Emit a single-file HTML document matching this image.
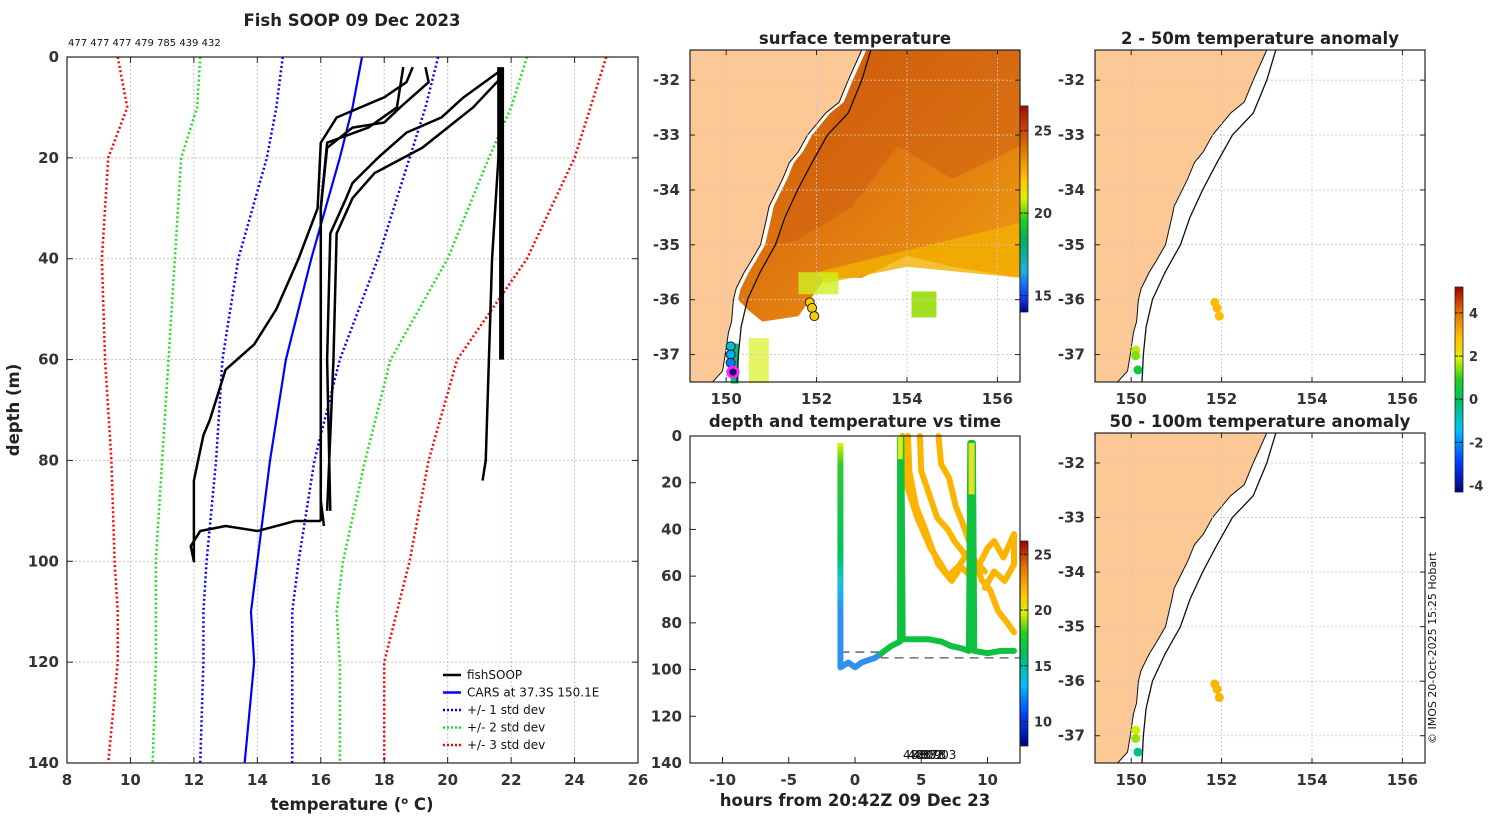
<!DOCTYPE html>
<html><head><meta charset="utf-8"><style>
body{margin:0;background:#fff;width:1500px;height:820px;overflow:hidden;font-family:"Liberation Sans","DejaVu Sans",sans-serif}
svg text{font-family:"DejaVu Sans","Liberation Sans",sans-serif}
.t{font-weight:bold;font-size:16.5px;fill:#222}
.tk{font-weight:bold;font-size:15px;fill:#333}
.n{font-weight:normal;fill:#111}
</style></head><body>
<svg id="fig" width="1500" height="820" viewBox="0 0 1500 820" xmlns="http://www.w3.org/2000/svg">
<defs>
<linearGradient id="jet" x1="0" y1="1" x2="0" y2="0">
<stop offset="0" stop-color="#00007f"/><stop offset="0.15" stop-color="#0040ff"/><stop offset="0.3" stop-color="#00c0ff"/><stop offset="0.45" stop-color="#00c060"/><stop offset="0.55" stop-color="#20d020"/><stop offset="0.65" stop-color="#e0f000"/><stop offset="0.75" stop-color="#ffc000"/><stop offset="0.88" stop-color="#e07000"/><stop offset="1" stop-color="#a00000"/>
</linearGradient>
<linearGradient id="sst" x1="0" y1="1" x2="0" y2="0">
<stop offset="0" stop-color="#00007f"/><stop offset="0.05" stop-color="#1030d0"/><stop offset="0.1" stop-color="#1050ff"/><stop offset="0.2" stop-color="#20b0e0"/><stop offset="0.35" stop-color="#00b060"/><stop offset="0.45" stop-color="#20d020"/><stop offset="0.55" stop-color="#e0f000"/><stop offset="0.65" stop-color="#ffc000"/><stop offset="0.8" stop-color="#e07000"/><stop offset="1" stop-color="#a01000"/>
</linearGradient>
<linearGradient id="p1" x1="0" y1="0" x2="0" y2="1">
<stop offset="0" stop-color="#e0f000"/><stop offset="0.1" stop-color="#30c830"/><stop offset="0.5" stop-color="#00c060"/><stop offset="0.62" stop-color="#20c0e0"/><stop offset="0.75" stop-color="#3090f0"/><stop offset="1" stop-color="#3090f0"/>
</linearGradient>
<linearGradient id="sea" x1="0" y1="0" x2="1" y2="1">
<stop offset="0" stop-color="#c84a00"/><stop offset="0.5" stop-color="#e07a10"/><stop offset="1" stop-color="#f0a010"/>
</linearGradient>
</defs>
<g id="g"></g>
</svg>
<script>
// ---------- data ----------
const depthsStd=[0,10,20,40,60,80,100,110,120,140];
const cars=[17.3,17.0,16.6,15.7,14.9,14.4,14.0,13.8,13.9,13.6];
const std1Lo=[14.8,14.6,14.3,13.4,12.9,12.7,12.4,12.3,12.3,12.2];
const std1Hi=[19.7,19.3,18.8,17.8,16.6,15.8,15.3,15.1,15.1,15.1];
const std2Lo=[12.2,12.1,11.6,11.4,11.2,11.0,10.8,10.8,10.8,10.7];
const std2Hi=[22.5,22.0,21.3,20.0,18.2,17.4,16.7,16.5,16.6,16.6];
const std3Lo=[9.6,9.9,9.3,9.1,9.2,9.4,9.5,9.6,9.6,9.3];
const std3Hi=[25.0,24.5,24.0,22.5,20.3,19.4,18.8,18.4,18.0,18.0];
const profA=[[2,18.9],[5,18.7],[8,18.0],[12,16.5],[17,16.0],[30,15.9],[40,15.3],[50,14.6],[57,13.9],[62,13.0],[66,12.8],[72,12.5],[75,12.3],[84,12.0],[100,12.0],[97,11.9],[94,12.2],[93,13.0],[94,14.0],[92,15.2],[92,16.0]];
const profB=[[2,19.3],[5,19.4],[10,18.5],[13,18.0],[14,17.0],[18,16.2],[30,16.0],[60,16.0],[88,16.0],[93,16.1]];
const profC=[[2,18.6],[6,18.5],[10,18.4],[14,17.5],[17,16.2],[30,16.0],[88,16.0],[92,16.0]];
const profD=[[3,21.6],[8,20.5],[12,19.8],[15,18.7],[20,17.8],[25,17.0],[28,16.8],[35,16.3],[60,16.2],[90,16.3]];
const profE=[[4,21.7],[10,20.8],[14,20.0],[18,19.2],[23,17.7],[28,17.0],[35,16.5],[60,16.4],[90,16.2]];
const profF=[[2,21.7],[20,21.7],[40,21.7],[60,21.7]];
const profG=[[2,21.6],[20,21.6],[40,21.4],[60,21.3],[80,21.2],[84,21.1]];
const xTicksT=[8,10,12,14,16,18,20,22,24,26];
const yTicksD=[0,20,40,60,80,100,120,140];
const counts="477 477 477 479 785 439 432";
// maps
const coast=[[153.0,-31.45],[152.7,-32.0],[152.5,-32.4],[152.2,-32.6],[151.8,-33.0],[151.6,-33.3],[151.4,-33.5],[151.25,-33.8],[151.13,-34.0],[150.95,-34.3],[150.9,-34.5],[150.76,-35.0],[150.55,-35.3],[150.4,-35.5],[150.22,-35.8],[150.16,-36.0],[150.12,-36.4],[150.05,-36.6],[149.98,-37.0],[149.92,-37.3],[149.7,-37.5]];
const shelf=[[153.2,-31.45],[153.0,-32.0],[152.7,-32.6],[152.24,-33.0],[151.9,-33.5],[151.58,-34.0],[151.3,-34.5],[151.09,-35.0],[150.75,-35.5],[150.47,-36.0],[150.33,-36.5],[150.27,-37.0],[150.24,-37.5]];
const lonTicks=[150,152,154,156];
const latTicks=[-32,-33,-34,-35,-36,-37];
const sstDots=[[151.85,-36.05,21],[151.9,-36.15,21],[151.95,-36.3,21],[150.1,-36.85,14],[150.1,-37.0,13],[150.1,-37.15,12],[150.15,-37.3,11]];
const anomTop=[[151.85,-36.05,2.7],[151.9,-36.15,2.7],[151.95,-36.3,2.7],[150.1,-36.92,1.5],[150.1,-37.02,1.2],[150.15,-37.28,0.2]];
const anomBot=[[151.85,-36.05,2.8],[151.9,-36.15,2.8],[151.95,-36.3,2.8],[150.1,-36.9,1.6],[150.1,-37.05,1.3],[150.15,-37.3,-0.6]];
// depth-time
const tTicks=[-10,-5,0,5,10];
const cb1Ticks=[15,20,25];
const cbATicks=[-4,-2,0,2,4];
const cbTTicks=[10,15,20,25];
const trackBlue=[[-1.1,99],[-0.5,97],[0,99],[0.5,97],[1,96],[1.5,95],[2,93]];
const trackGreen=[[2,93],[2.7,90],[3.4,88],[3.4,1],[3.5,1],[3.6,87],[4.5,87],[5.5,87],[6.5,88],[7.3,90],[8.1,91],[8.6,92],[8.7,3],[8.9,3],[9.0,92],[10,93],[11,92],[12,92]];
const orange1=[[3.6,0],[3.9,21],[4.7,35],[5.7,48],[6.5,55],[7.0,60],[7.8,56],[8.5,50],[9.3,56],[10,48],[10.5,45],[11.2,52],[12,42],[12.0,55],[11.3,62],[10.5,58],[9.8,65]];
const orange2=[[4.0,0],[4.1,15],[4.6,30],[5.3,40],[5.8,48],[6.3,55],[7.3,62],[8.0,56],[8.7,60]];
const orange3=[[4.9,0],[5.0,15],[5.6,25],[6.2,35],[7.0,40],[7.5,45],[8.2,50],[9.0,53],[9.8,58]];
const orange4=[[6.3,0],[6.5,12],[7.1,18],[7.6,30],[8.1,37],[8.6,45],[9.1,55],[9.6,62],[10.2,66],[10.8,75],[11.5,80],[12,84]];
const dash=[[-1.1,92.5],[2,92.5],[2,95],[12.5,95]];

// ---------- helpers ----------
const NS="http://www.w3.org/2000/svg";
const G=document.getElementById('g');
function mk(tag,attrs,parent){const e=document.createElementNS(NS,tag);for(const k in attrs)e.setAttribute(k,attrs[k]);(parent||G).appendChild(e);return e;}
function txt(x,y,s,cls,anchor,extra){const e=mk('text',Object.assign({x:x,y:y,class:cls||'tk','text-anchor':anchor||'middle'},extra||{}));e.textContent=s;return e;}
function jet(v,lo,hi){const c=[[0,[0,0,127]],[0.15,[0,64,255]],[0.3,[0,192,255]],[0.45,[0,192,96]],[0.55,[32,208,32]],[0.65,[224,240,0]],[0.75,[255,192,0]],[0.88,[224,112,0]],[1,[160,0,0]]];let f=Math.max(0,Math.min(1,(v-lo)/(hi-lo)));for(let i=1;i<c.length;i++){if(f<=c[i][0]){const a=c[i-1],b=c[i],u=(f-a[0])/(b[0]-a[0]);return 'rgb('+a[1].map((x,j)=>Math.round(x+(b[1][j]-x)*u)).join(',')+')';}}return 'rgb(160,0,0)';}

// ---------- left panel ----------
const L={x0:67,x1:638,y0:57,y1:763};
const tx=v=>L.x0+(v-8)/18*(L.x1-L.x0);
const dy=d=>L.y0+d/140*(L.y1-L.y0);
let lp=mk('g',{});
xTicksT.forEach(v=>{if(v>8&&v<26)mk('line',{x1:tx(v),x2:tx(v),y1:L.y0,y2:L.y1,stroke:'#b8c0e8','stroke-dasharray':'2,2','stroke-width':1},lp);});
yTicksD.forEach(v=>{if(v>0&&v<140)mk('line',{x1:L.x0,x2:L.x1,y1:dy(v),y2:dy(v),stroke:'#d8c0a8','stroke-dasharray':'2,2','stroke-width':1},lp);});
function line(xs,ys,col,w,dash,par){mk('polyline',{points:xs.map((x,i)=>x+','+ys[i]).join(' '),fill:'none',stroke:col,'stroke-width':w,'stroke-dasharray':dash||'none','stroke-linejoin':'round'},par||lp);}
[[std3Lo,'#ff0000'],[std3Hi,'#ff0000'],[std2Lo,'#22dd22'],[std2Hi,'#22dd22'],[std1Lo,'#0000ff'],[std1Hi,'#0000ff']].forEach(([a,c])=>{line(a.map(tx),depthsStd.map(dy),c,2.5,'2,2.5');});
line(cars.map(tx),depthsStd.map(dy),'#0000ff',2.2);
[profA,profB,profC,profD,profE,profG].forEach(p=>line(p.map(q=>tx(q[1])),p.map(q=>dy(q[0])),'#000',2.5));
line(profF.map(q=>tx(q[1])),profF.map(q=>dy(q[0])),'#000',5);
mk('rect',{x:L.x0,y:L.y0,width:L.x1-L.x0,height:L.y1-L.y0,fill:'none',stroke:'#222','stroke-width':1.2},lp);
xTicksT.forEach(v=>{mk('line',{x1:tx(v),x2:tx(v),y1:L.y1,y2:L.y1-6,stroke:'#222'},lp);mk('line',{x1:tx(v),x2:tx(v),y1:L.y0,y2:L.y0+6,stroke:'#222'},lp);txt(tx(v),L.y1+22,String(v),'tk','middle');});
yTicksD.forEach(v=>{mk('line',{x1:L.x0,x2:L.x0+6,y1:dy(v),y2:dy(v),stroke:'#222'},lp);mk('line',{x1:L.x1,x2:L.x1-6,y1:dy(v),y2:dy(v),stroke:'#222'},lp);txt(L.x0-8,dy(v)+5,String(v),'tk','end');});
let t1=txt(352,26,'Fish SOOP 09 Dec 2023','t');
let t2=txt(68,46,counts,'n','start',{style:'font-size:10px'});
let xl=txt(352,810,'temperature (','t');xl.innerHTML='temperature (<tspan dy="-6" style="font-size:10px">o</tspan><tspan dy="6"> C)</tspan>';
let yl=txt(19,410,'depth (m)','t','middle',{transform:'rotate(-90 19 410)'});
// legend
let lg=mk('g',{});
[['fishSOOP','#000','none'],['CARS at 37.3S 150.1E','#0000ff','none'],['+/- 1 std dev','#0000ff','2,2'],['+/- 2 std dev','#22dd22','2,2'],['+/- 3 std dev','#ff0000','2,2']].forEach((r,i)=>{const y=675+i*17.5;const en=mk('g',{},lg);mk('line',{x1:443,x2:461,y1:y,y2:y,stroke:r[1],'stroke-width':2.5,'stroke-dasharray':r[2]},en);const t=mk('text',{x:467,y:y+4,style:'font-size:12px;fill:#111'},en);t.textContent=r[0];});

// ---------- maps ----------
function mapAx(x0,y0,x1,y1){return {lx:v=>x0+(v-149.2)/7.3*(x1-x0),ly:v=>y0+(-31.45-v)/6.05*(y1-y0),x0,y0,x1,y1};}
function drawMap(M,name,title,sst,dots,lo,hi){
 const p=mk('g',{});
 mk('rect',{x:M.x0,y:M.y0,width:M.x1-M.x0,height:M.y1-M.y0,fill:'#fff'},p);
 const cpts=coast.map(c=>M.lx(c[0])+','+M.ly(c[1])).join(' ');
 if(sst){
  const frontPts=[[156.5,-35.6],[155,-35.4],[154,-35.2],[153,-35.6],[152.2,-35.6],[151.6,-36.3],[150.8,-36.4],[150.5,-36.2]];
  let pts=coast.filter(c=>c[1]>=-36.1).map(c=>[c[0]+0.1,c[1]]);
  pts=pts.concat(frontPts.slice().reverse()).concat([[156.5,-35.6],[156.5,-31.45]]);
  mk('polygon',{points:pts.map(c=>M.lx(c[0])+','+M.ly(c[1])).join(' '),fill:'url(#sea)'},p);
  mk('polygon',{points:[[153.2,-31.45],[156.5,-31.45],[156.5,-33.2],[155,-33.8],[153.8,-33.2],[152.8,-34.3],[151.6,-34.9],[151.1,-35.0],[151.6,-34.0]].map(c=>M.lx(c[0])+','+M.ly(c[1])).join(' '),fill:'#d06010',opacity:0.6},p);
  mk('polygon',{points:[[152,-35.5],[156.5,-34.6],[156.5,-35.6],[154,-35.4],[152.2,-35.7]].map(c=>M.lx(c[0])+','+M.ly(c[1])).join(' '),fill:'#f2b000',opacity:0.8},p);
  mk('rect',{x:M.lx(151.6),y:M.ly(-35.5),width:40,height:22,fill:'#d0f020',opacity:0.8},p);
  mk('rect',{x:M.lx(154.1),y:M.ly(-35.85),width:25,height:26,fill:'#a0e020'},p);
  mk('rect',{x:M.lx(150.1),y:M.ly(-36.8),width:8,height:40,fill:'#10b870'},p);
  mk('rect',{x:M.lx(150.5),y:M.ly(-36.7),width:20,height:45,fill:'#d8f020',opacity:0.7},p);
 }
 mk('polygon',{points:cpts+' '+M.lx(149.2)+','+M.ly(-37.5)+' '+M.lx(149.2)+','+M.ly(-31.45),fill:'#fbc896',stroke:'#111','stroke-width':1},p);
 lonTicks.forEach(v=>mk('line',{x1:M.lx(v),x2:M.lx(v),y1:M.y0,y2:M.y1,stroke:'#c0c4e0','stroke-dasharray':'2,2','stroke-width':0.8},p));
 latTicks.forEach(v=>mk('line',{x1:M.x0,x2:M.x1,y1:M.ly(v),y2:M.ly(v),stroke:'#d8c8b0','stroke-dasharray':'2,2','stroke-width':0.8},p));
 mk('polyline',{points:shelf.map(c=>M.lx(c[0])+','+M.ly(c[1])).join(' '),fill:'none',stroke:'#111','stroke-width':1.3},p);
 dots.forEach(d=>{const c=mk('circle',{cx:M.lx(d[0]),cy:M.ly(d[1]),r:4.5,fill:jet(d[2],lo,hi),stroke:sst?'#222':'none','stroke-width':1},p);});
 if(sst)mk('circle',{cx:M.lx(150.15),cy:M.ly(-37.32),r:5,fill:'#101060',stroke:'#ff20ff','stroke-width':3},p);
 mk('rect',{x:M.x0,y:M.y0,width:M.x1-M.x0,height:M.y1-M.y0,fill:'none',stroke:'#222','stroke-width':1.2},p);
 lonTicks.forEach(v=>{mk('line',{x1:M.lx(v),x2:M.lx(v),y1:M.y1,y2:M.y1-5,stroke:'#222'},p);mk('line',{x1:M.lx(v),x2:M.lx(v),y1:M.y0,y2:M.y0+5,stroke:'#222'},p);txt(M.lx(v),M.y1+22,String(v));});
 latTicks.forEach(v=>{mk('line',{x1:M.x0,x2:M.x0+5,y1:M.ly(v),y2:M.ly(v),stroke:'#222'},p);mk('line',{x1:M.x1,x2:M.x1-5,y1:M.ly(v),y2:M.ly(v),stroke:'#222'},p);txt(M.x0-10,M.ly(v)+5,String(v),'tk','end');});
 const t=txt((M.x0+M.x1)/2,M.y0-6,title,'t');
}
drawMap(mapAx(690,50,1020,382),'surface-temperature-map','surface temperature',true,sstDots,8,26);
drawMap(mapAx(1095,50,1425,382),'anomaly-map-2-50m','2 - 50m temperature anomaly',false,anomTop,-4.5,5);
drawMap(mapAx(1095,433,1425,763),'anomaly-map-50-100m','50 - 100m temperature anomaly',false,anomBot,-4.5,5);

// colorbars
function cbar(x,y0,y1,lo,hi,ticks,grad,name){const g=mk('g',{});mk('rect',{x:x,y:y0,width:8,height:y1-y0,fill:grad,stroke:'#222','stroke-width':0.8},g);ticks.forEach(v=>{const y=y1-(v-lo)/(hi-lo)*(y1-y0);mk('line',{x1:x+8,x2:x+4,y1:y,y2:y,stroke:'#222'},g);mk('line',{x1:x,x2:x+3,y1:y,y2:y,stroke:'#222'},g);txt(x+14,y+5,String(v),'tk','start',{style:'font-size:13px'});});}
cbar(1020,106,312,14,26.5,cb1Ticks,'url(#sst)','sst-colorbar');
cbar(1455,287,492,-4.3,5.2,cbATicks,'url(#jet)','anomaly-colorbar');
cbar(1020,541,746,7.8,26.2,cbTTicks,'url(#jet)','time-colorbar');

// ---------- depth-time panel ----------
const T={x0:690,x1:1020,y0:436,y1:763};
const hx=v=>855+v*13.25;
const hy=d=>T.y0+d/140*(T.y1-T.y0);
let tp=mk('g',{});
const pl=(arr,col,w,extra)=>mk('polyline',Object.assign({points:arr.map(q=>hx(q[0])+','+hy(q[1])).join(' '),fill:'none',stroke:col,'stroke-width':w,'stroke-linejoin':'round','stroke-linecap':'round'},extra||{}),tp);
pl(dash,'#555',1.3,{'stroke-dasharray':'9,6','stroke-linecap':'butt'});
[orange1,orange2,orange3,orange4].forEach(o=>pl(o,'#fbb400',6));
mk('rect',{x:hx(-1.1)-3,y:hy(3),width:6,height:hy(99)-hy(3),fill:'url(#p1)'},tp);
pl(trackBlue,'#3090f0',6);
pl(trackGreen,'#10c040',6);
mk('line',{x1:hx(3.42),x2:hx(3.42),y1:hy(0),y2:hy(10),stroke:'#d8f020','stroke-width':5},tp);
mk('line',{x1:hx(8.8),x2:hx(8.8),y1:hy(3),y2:hy(25),stroke:'#e8e020','stroke-width':6},tp);
mk('rect',{x:T.x0,y:T.y0,width:T.x1-T.x0,height:T.y1-T.y0,fill:'none',stroke:'#222','stroke-width':1.2},tp);
tTicks.forEach(v=>{mk('line',{x1:hx(v),x2:hx(v),y1:T.y1,y2:T.y1-6,stroke:'#222'},tp);txt(hx(v),T.y1+22,String(v));});
yTicksD.forEach(v=>{mk('line',{x1:T.x0,x2:T.x0+6,y1:hy(v),y2:hy(v),stroke:'#222'},tp);txt(T.x0-8,hy(v)+5,String(v),'tk','end');});
['4880903','48878','4882'].forEach((s,i)=>txt(903+i*5,759,s,'n','start',{style:'font-size:12px'}));
let tt=txt(855,427,'depth and temperature vs time','t');
let tx2=txt(855,806,'hours from 20:42Z 09 Dec 23','t');
let cp=txt(1436,648,'© IMOS 20-Oct-2025 15:25 Hobart','n','middle',{transform:'rotate(-90 1436 648)',style:'font-size:11px'});
</script>
</body></html>
